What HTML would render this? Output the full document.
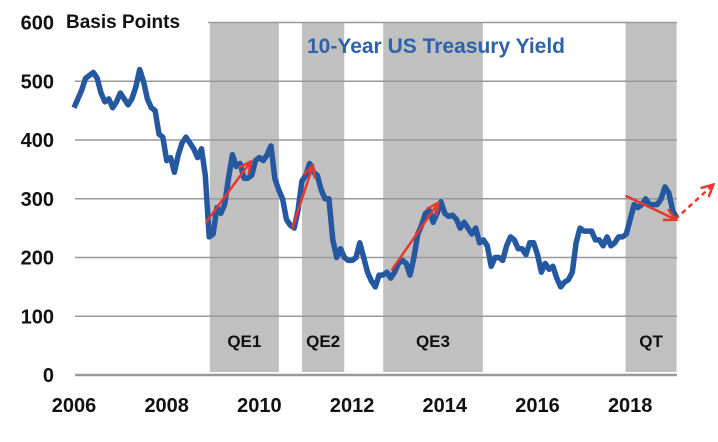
<!DOCTYPE html>
<html><head><meta charset="utf-8"><style>
html,body{margin:0;padding:0;background:#fff;}
svg{display:block;font-family:"Liberation Sans",Arial,sans-serif;}
</style></head><body>
<svg id="chart" width="718" height="442"></svg>
<script>
const years = [2006,2008,2010,2012,2014,2016,2018];
const yTicks = [0,100,200,300,400,500,600];
const shadeLabels = ["QE1","QE2","QE3","QT"];
const shadeStart = [2008.93,2010.92,2012.67,2017.9];
const shadeEnd = [2010.42,2011.83,2014.82,2019.0];
const yields = [
455,470,485,505,510,515,505,480,465,470,455,465,
480,470,460,470,490,520,500,470,455,450,410,405,
365,370,345,375,395,405,395,385,370,385,340,235,
240,285,275,290,335,375,355,360,335,335,340,365,
370,365,375,390,335,315,300,265,255,250,280,330,
340,360,345,340,315,300,300,230,200,215,200,195,
195,200,225,200,175,160,150,170,170,175,165,175,
190,195,190,170,200,240,255,275,280,260,275,295,
275,270,272,265,250,260,250,240,250,225,230,220,
185,200,200,195,220,235,230,215,215,205,225,225,
205,175,190,180,185,165,150,158,162,175,225,250,
245,245,245,230,230,220,235,220,225,235,235,240,
265,290,285,290,300,290,290,290,300,320,310,280,
268];
const arrowFrom = [[2008.85,260],[2010.7,248],[2012.85,178],[2017.9,305]];
const arrowTo = [[2009.8,362],[2011.15,355],[2013.85,292],[2018.97,265]];
const dashFrom = [2018.97,265];
const dashTo = [2019.78,323];

const NS="http://www.w3.org/2000/svg";
const svg=document.getElementById('chart');
const x0=75,x1=677,y0=375,yTop=22.5;
const X=t=>74+(t-2006)*46.35;
const Y=v=>y0-(v/600)*(y0-yTop);
function el(tag,attrs,parent){const e=document.createElementNS(NS,tag);for(const k in attrs)e.setAttribute(k,attrs[k]);(parent||svg).appendChild(e);return e;}

const defs=el('defs',{});
const mk2=el('marker',{id:'ah2',markerWidth:'14',markerHeight:'14',refX:'11',refY:'7',orient:'auto',markerUnits:'userSpaceOnUse'},defs);
el('path',{d:'M0,1 L12,7 L0,13',fill:'none',stroke:'#e8382e','stroke-width':'2.5'},mk2);

for(let i=0;i<shadeLabels.length;i++){
  const r=el('rect',{x:X(shadeStart[i]),y:yTop,width:Math.min(X(shadeEnd[i]),x1)-X(shadeStart[i]),height:372-yTop,fill:'#c0c0c0'});
  
  
  const t=el('text',{x:(X(shadeStart[i])+Math.min(X(shadeEnd[i]),x1))/2,y:347,'text-anchor':'middle','font-size':'17','font-weight':'bold',fill:'#111'});
  t.textContent=shadeLabels[i];
  
  
}
for(const v of yTicks){
  const g=el('line',{x1:v===600?208:x0,x2:x1,y1:Y(v),y2:Y(v),stroke:'#999','stroke-width':v===0?2.5:1.5});
  
  
  const t=el('text',{x:54,y:Y(v)+7,'text-anchor':'end','font-size':'20','font-weight':'bold',fill:'#111'});
  t.textContent=v;
  
  
}
for(const yr of years){
  const t=el('text',{x:X(yr),y:412,'text-anchor':'middle','font-size':'20','font-weight':'bold',fill:'#111'});
  t.textContent=yr;
  
  
}
const yt=el('text',{x:66,y:28,'font-size':'19','font-weight':'bold',fill:'#111'});
yt.textContent='Basis Points';


const ct=el('text',{x:307,y:53,'font-size':'21','font-weight':'bold',fill:'#2e62ab'});
ct.textContent='10-Year US Treasury Yield';



let d='';
yields.forEach((v,i)=>{d+=(i?'L':'M')+X(2006+i/12).toFixed(1)+','+Y(v).toFixed(1);});
const line=el('path',{d:d,fill:'none',stroke:'#2458a0','stroke-width':'5.5','stroke-linejoin':'round'});



for(let i=0;i<arrowFrom.length;i++){
  const a=el('line',{x1:X(arrowFrom[i][0]),y1:Y(arrowFrom[i][1]),x2:X(arrowTo[i][0]),y2:Y(arrowTo[i][1]),stroke:'#e8382e','stroke-width':'2.5','marker-end':'url(#ah2)'});
  
  
}
const da=el('line',{x1:X(dashFrom[0]),y1:Y(dashFrom[1]),x2:X(dashTo[0]),y2:Y(dashTo[1]),stroke:'#e8382e','stroke-width':'2.5','stroke-dasharray':'5,4','marker-end':'url(#ah2)'});


</script>
</body></html>
